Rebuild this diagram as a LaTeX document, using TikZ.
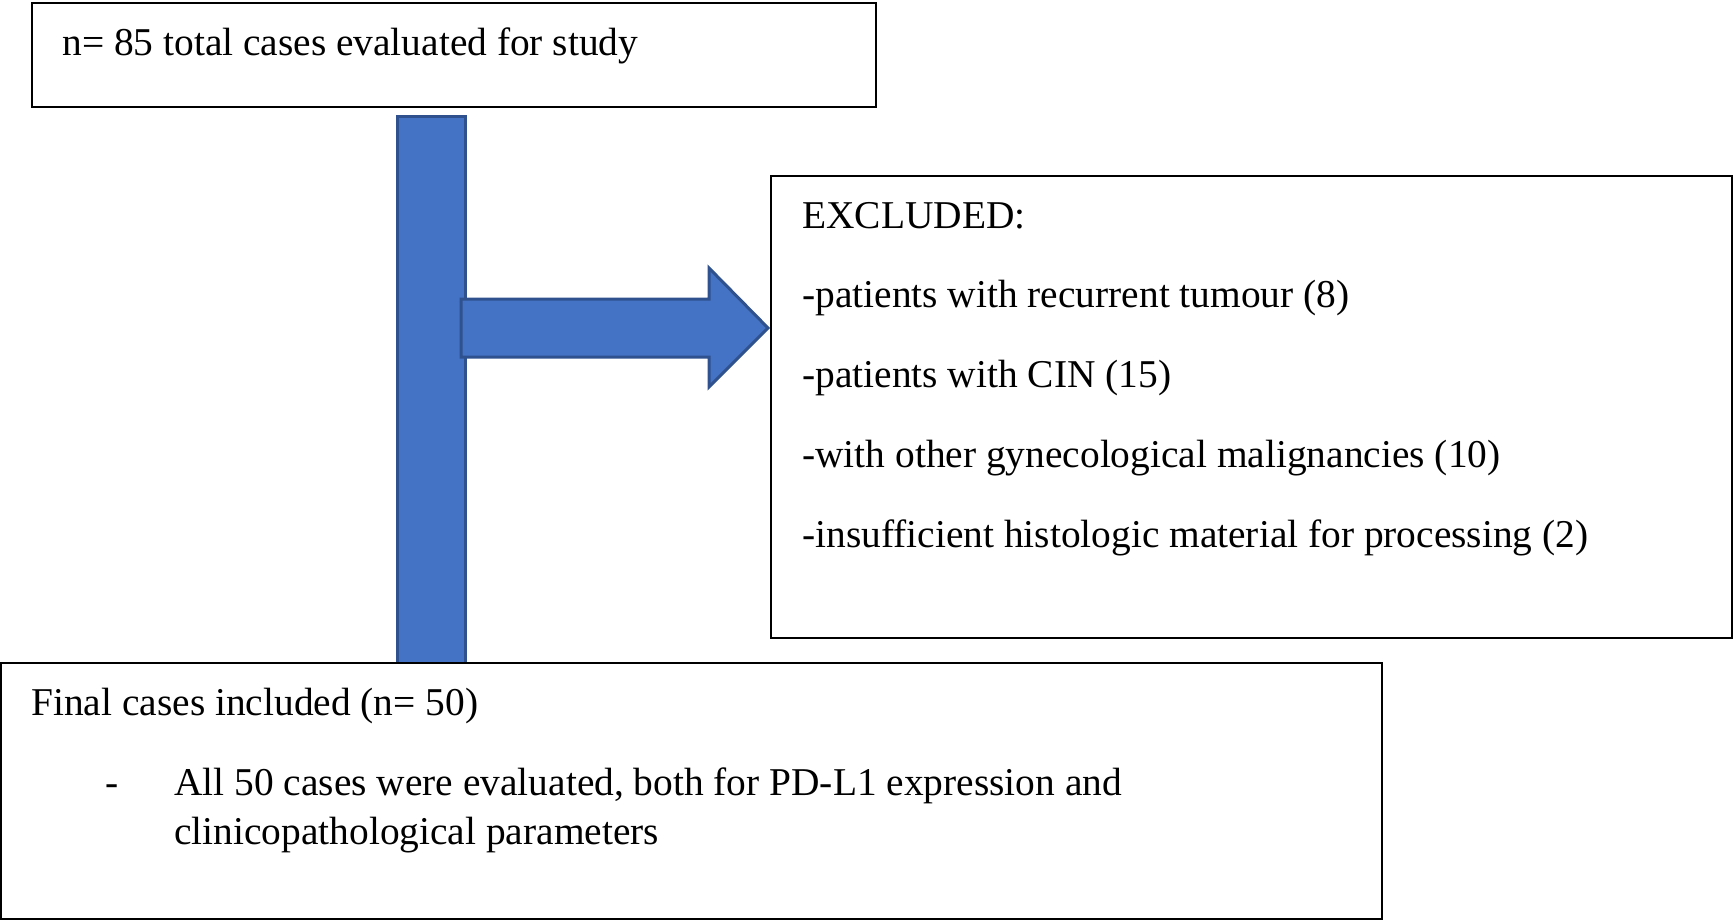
\documentclass[tikz,border=0pt]{standalone}
\usepackage{fontspec}
\setmainfont{Liberation Serif}
\begin{document}
\begin{tikzpicture}[x=0.5pt,y=-0.5pt,
  box/.style={draw=black,line width=1pt,fill=white},
  txt/.style={anchor=base west,inner sep=0pt,font=\fontsize{19.7}{24}\selectfont},
  blockarrow/.style={fill=arrowfill,draw=arrowedge,line width=1.5pt,line join=miter}]
\definecolor{arrowfill}{HTML}{4472C4}
\definecolor{arrowedge}{HTML}{2F528F}
\useasboundingbox (0,0) rectangle (1734,921);
% boxes
\draw[box] (32,3) rectangle (876,107);
\draw[box] (771,176) rectangle (1732,638);
% vertical bar
\draw[blockarrow] (397,116) rectangle (465,663);
% horizontal arrow
\draw[blockarrow] (461,299) -- (709,299) -- (709,268) -- (768,328) -- (709,387) -- (709,357) -- (461,357) -- cycle;
\draw[box] (1,663) rectangle (1382,919);
% texts
\node[txt] (t1) at (62,55) {n= 85 total cases evaluated for study};
\node[txt] (e0) at (802,228) {EXCLUDED:};
\node[txt] (e1) at (802,307) {-patients with recurrent tumour (8)};
\node[txt] (e2) at (802,387) {-patients with CIN (15)};
\node[txt] (e3) at (802,467) {-with other gynecological malignancies (10)};
\node[txt] (e4) at (802,547) {-insufficient histologic material for processing (2)};
\node[txt] (f0) at (31,715) {Final cases included (n= 50)};
\node[txt] (fb) at (105,795) {-};
\node[txt] (f1) at (174,795) {All 50 cases were evaluated, both for PD-L1 expression and};
\node[txt] (f2) at (174,844) {clinicopathological parameters};
\end{tikzpicture}
\end{document}
